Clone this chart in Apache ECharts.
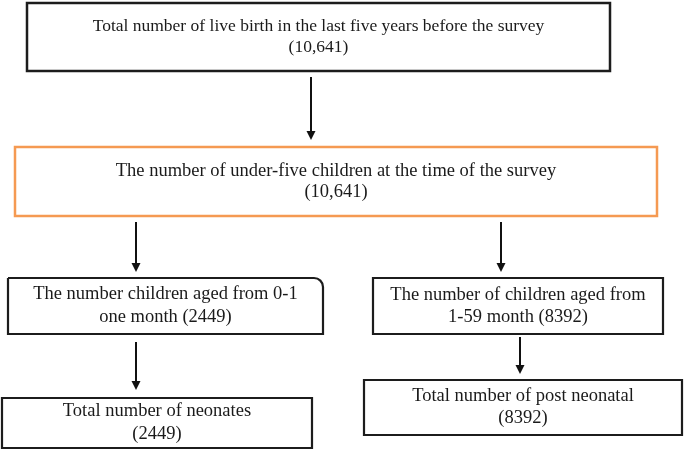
<!DOCTYPE html>
<html>
<head>
<meta charset="utf-8">
<script src="https://cdn.jsdelivr.net/npm/echarts@6/dist/echarts.min.js"></script>
<style>html,body{margin:0;padding:0;background:#fff}#c{width:685px;height:450px}</style>
</head>
<body>
<div id="c"></div>
<script>
// ---- data ----
const boxText = [
  "Total number of live birth in the last five years before the survey\n({n})",
  "The number of under-five children at the time of the survey\n({n})",
  "The number children aged from 0-1\none month ({n})",
  "The number of children aged from\n1-59 month ({n})",
  "Total number of neonates\n({n})",
  "Total number of post neonatal\n({n})"
];
const boxCount = ["10,641", "10,641", "2449", "8392", "2449", "8392"];
const links = [[0, 1], [1, 2], [1, 3], [2, 4], [3, 5]];

// ---- layout (diagram units) ----
const boxLayout = [
  [27, 3, 610, 71],
  [15, 147, 657, 216],
  [8, 278, 323, 334],
  [373, 278, 663, 334],
  [2, 398, 312, 448],
  [364, 380, 682, 435]
];
const boxStyle = [
  {stroke: '#1c1c1c', lw: 2.5, r: 0, fs: 17.5, lh: 21},
  {stroke: '#F59A52', lw: 2.5, r: 0, fs: 18.5, lh: 21},
  {stroke: '#1c1c1c', lw: 2.2, r: [0, 9, 0, 0], fs: 18.5, lh: 23},
  {stroke: '#1c1c1c', lw: 2.2, r: 0, fs: 18.5, lh: 22},
  {stroke: '#1c1c1c', lw: 2.2, r: 0, fs: 18.5, lh: 23},
  {stroke: '#1c1c1c', lw: 2.2, r: 0, fs: 18.5, lh: 22}
];
const arrowLayout = [
  [311, 77, 140],
  [136, 222, 272],
  [501, 222, 272],
  [136, 342, 390],
  [520, 337, 374]
];

const chart = echarts.init(document.getElementById('c'));
const boxData = boxLayout.map((b, i) => [b[0], b[1], b[2], b[3], i]);
const arrowData = arrowLayout.map((a, i) => [a[0], a[1], a[0], a[2], i]);

chart.setOption({
  animation: false,
  grid: {left: 0, right: 0, top: 0, bottom: 0},
  xAxis: {type: 'value', min: 0, max: 685, show: false},
  yAxis: {type: 'value', min: 0, max: 450, inverse: true, show: false},
  series: [
    {
      type: 'custom',
      coordinateSystem: 'cartesian2d',
      encode: {x: [0, 2], y: [1, 3]},
      data: boxData,
      clip: false,
      renderItem: function (params, api) {
        const i = api.value(4);
        const p0 = api.coord([api.value(0), api.value(1)]);
        const p1 = api.coord([api.value(2), api.value(3)]);
        const st = boxStyle[i];
        const txt = boxText[i].replace('{n}', boxCount[i]);
        return {
          type: 'group',
          children: [
            {
              type: 'rect',
              shape: {x: p0[0], y: p0[1], width: p1[0] - p0[0], height: p1[1] - p0[1], r: st.r},
              style: {fill: '#fff', stroke: st.stroke, lineWidth: st.lw}
            },
            {
              type: 'text',
              style: {
                text: txt,
                x: (p0[0] + p1[0]) / 2,
                y: (p0[1] + p1[1]) / 2,
                align: 'center',
                verticalAlign: 'middle',
                fontFamily: 'Liberation Serif',
                fontSize: st.fs,
                lineHeight: st.lh,
                fill: '#1a1a1a'
              }
            }
          ]
        };
      }
    },
    {
      type: 'custom',
      coordinateSystem: 'cartesian2d',
      encode: {x: [0, 2], y: [1, 3]},
      data: arrowData,
      clip: false,
      renderItem: function (params, api) {
        const p0 = api.coord([api.value(0), api.value(1)]);
        const p1 = api.coord([api.value(2), api.value(3)]);
        const x = p0[0];
        return {
          type: 'group',
          children: [
            {
              type: 'line',
              shape: {x1: x, y1: p0[1], x2: x, y2: p1[1] - 7},
              style: {stroke: '#111', lineWidth: 2}
            },
            {
              type: 'polygon',
              shape: {points: [[x - 4.5, p1[1] - 9], [x + 4.5, p1[1] - 9], [x, p1[1]]]},
              style: {fill: '#111'}
            }
          ]
        };
      }
    }
  ]
});
</script>
</body>
</html>
